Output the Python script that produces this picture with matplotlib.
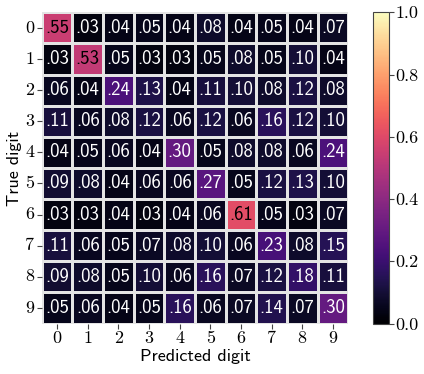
import numpy as np
import matplotlib
matplotlib.use("Agg")
import matplotlib.pyplot as plt
import seaborn as sns

plt.rcParams['axes.unicode_minus'] = False

labels = [str(i) for i in range(10)]
row0 = [.55, .03, .04, .05, .04, .08, .04, .05, .04, .07]
row1 = [.03, .53, .05, .03, .03, .05, .08, .05, .10, .04]
row2 = [.06, .04, .24, .13, .04, .11, .10, .08, .12, .08]
row3 = [.11, .06, .08, .12, .06, .12, .06, .16, .12, .10]
row4 = [.04, .05, .06, .04, .30, .05, .08, .08, .06, .24]
row5 = [.09, .08, .04, .06, .06, .27, .05, .12, .13, .10]
row6 = [.03, .03, .04, .03, .04, .06, .61, .05, .03, .07]
row7 = [.11, .06, .05, .07, .08, .10, .06, .23, .08, .15]
row8 = [.09, .08, .05, .10, .06, .16, .07, .12, .18, .11]
row9 = [.05, .06, .04, .05, .16, .06, .07, .14, .07, .30]
matrix = np.array([row0, row1, row2, row3, row4, row5, row6, row7, row8, row9])
cbar_ticks = [0.0, 0.2, 0.4, 0.6, 0.8, 1.0]

fig = plt.figure(figsize=(4.24, 3.74), dpi=100)
ax = fig.add_axes([41.7/424, 1-323.5/374, 306.5/424, 311.2/374])
cax = fig.add_axes([373.3/424, 1-323.5/374, 16/424, 311.2/374])

annot = np.array([[("%.2f" % v).lstrip('0') for v in r] for r in matrix])
sns.heatmap(matrix, ax=ax, cbar_ax=cax, cmap='magma', vmin=0, vmax=1,
            linewidths=0.9, linecolor='#e4e4e4', annot=annot, fmt='',
            annot_kws={'fontsize': 13.5, 'family': 'cmss10'})
for t in ax.texts:
    x, y = t.get_position()
    v = matrix[int(y), int(x)]
    t.set_color('black' if v > 0.45 else 'white')

ax.set_xticks(np.arange(10) + 0.5)
ax.set_yticks(np.arange(10) + 0.5)
ax.set_xticklabels(labels, fontsize=13, family='cmr10')
ax.set_yticklabels(labels, fontsize=13, family='cmr10', rotation=0)
ax.set_xlabel('Predicted digit', fontsize=13, family='cmss10', labelpad=2)
ax.set_ylabel('True digit', fontsize=13, family='cmss10', labelpad=2)
ax.tick_params(length=3.5, width=0.8, color='#444444', pad=2)

cb = ax.collections[0].colorbar
cb.set_ticks(cbar_ticks)
cb.set_ticklabels(['%.1f' % v for v in cbar_ticks], fontsize=13, family='cmr10')
cax.tick_params(length=3.5, width=0.8, color='#444444', pad=1)
cb.outline.set_visible(True)
cb.outline.set_linewidth(0.8)
cb.outline.set_edgecolor('#444444')

fig.savefig('out.png', dpi=100)
